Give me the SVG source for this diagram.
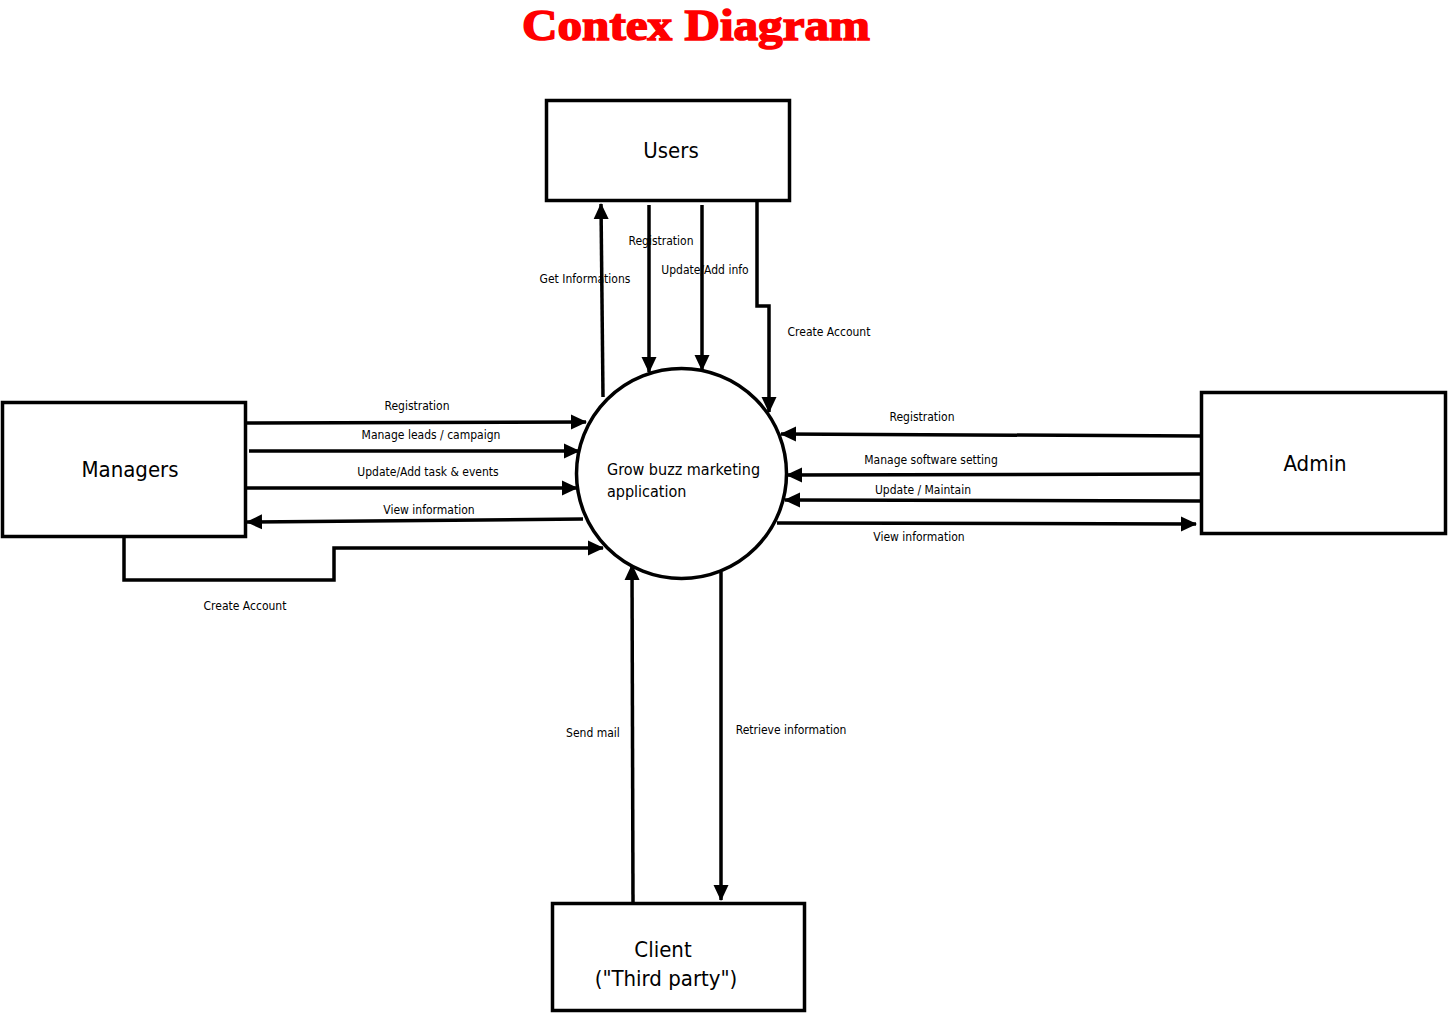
<svg xmlns="http://www.w3.org/2000/svg" width="1449" height="1014" viewBox="0 0 1449 1014">
<style>
.box{fill:#fff;stroke:#000;stroke-width:3.5}
.big{font-family:"DejaVu Sans Condensed","DejaVu Sans",sans-serif;font-size:22px;fill:#000;text-anchor:middle}
.lbl{font-family:"DejaVu Sans Condensed","DejaVu Sans",sans-serif;font-size:12px;fill:#000;text-anchor:middle}
.ln{fill:none;stroke:#000;stroke-width:3.5;marker-end:url(#arr)}
</style>
<defs>
<marker id="arr" markerUnits="userSpaceOnUse" markerWidth="17" markerHeight="16" refX="15" refY="8" orient="auto">
<path d="M0,0.5 L16,8 L0,15.5 z" fill="#000"/>
</marker>
</defs>
<rect width="1449" height="1014" fill="#fff"/>
<text x="696" y="40" font-family="Liberation Serif,serif" font-weight="bold" font-size="45" fill="#ff0000" stroke="#ff0000" stroke-width="1.6" text-anchor="middle" textLength="348" lengthAdjust="spacingAndGlyphs">Contex Diagram</text>

<g id="connectors">
<path class="ln" d="M603,397 L601,204"/>
<path class="ln" d="M649,205 L649,372"/>
<path class="ln" d="M702,205 L702,370"/>
<path class="ln" d="M757,201 L757,306 L769,306 L769,412"/>
<path class="ln" d="M246,423 L586,422"/>
<path class="ln" d="M249,451 L579,451"/>
<path class="ln" d="M246,488 L577,488"/>
<path class="ln" d="M583,519 L247,522"/>
<path class="ln" d="M124,537 L124,580 L334,580 L334,548 L603,548"/>
<path class="ln" d="M1201,436 L781,434"/>
<path class="ln" d="M1201,474 L787,475"/>
<path class="ln" d="M1201,501 L785,500"/>
<path class="ln" d="M777,523 L1196,524"/>
<path class="ln" d="M633,905 L632,565"/>
<path class="ln" d="M721,572 L721,900"/>
<text class="lbl" x="585" y="283">Get Informations</text>
<text class="lbl" x="661" y="245">Registration</text>
<text class="lbl" x="705" y="274">Update/Add info</text>
<text class="lbl" x="829" y="336">Create Account</text>
<text class="lbl" x="417" y="410">Registration</text>
<text class="lbl" x="431" y="439">Manage leads / campaign</text>
<text class="lbl" x="428" y="476">Update/Add task &amp; events</text>
<text class="lbl" x="429" y="514">View information</text>
<text class="lbl" x="245" y="610">Create Account</text>
<text class="lbl" x="922" y="421">Registration</text>
<text class="lbl" x="931" y="464">Manage software setting</text>
<text class="lbl" x="923" y="494">Update / Maintain</text>
<text class="lbl" x="919" y="541">View information</text>
<text class="lbl" x="593" y="737">Send mail</text>
<text class="lbl" x="791" y="734">Retrieve information</text>
</g>

<g id="process">
<circle class="box" cx="681.5" cy="473.5" r="105" stroke-width="4"/>
<text x="607" y="475" font-family="DejaVu Sans Condensed,DejaVu Sans,sans-serif" font-size="16" fill="#000">Grow buzz marketing</text>
<text x="607" y="497" font-family="DejaVu Sans Condensed,DejaVu Sans,sans-serif" font-size="16" fill="#000">application</text>
</g>

<g id="users">
<rect class="box" x="546.5" y="100.5" width="243" height="100"/>
<text class="big" x="671" y="158">Users</text>
</g>

<g id="managers">
<rect class="box" x="2.5" y="402.5" width="243" height="134"/>
<text class="big" x="130" y="477">Managers</text>
</g>

<g id="admin">
<rect class="box" x="1201.5" y="392.5" width="244" height="141"/>
<text class="big" x="1315" y="471">Admin</text>
</g>

<g id="client">
<rect class="box" x="552.5" y="903.5" width="252" height="107"/>
<text class="big" x="663" y="957">Client</text>
<text class="big" x="666" y="986">("Third party")</text>
</g>
</svg>
